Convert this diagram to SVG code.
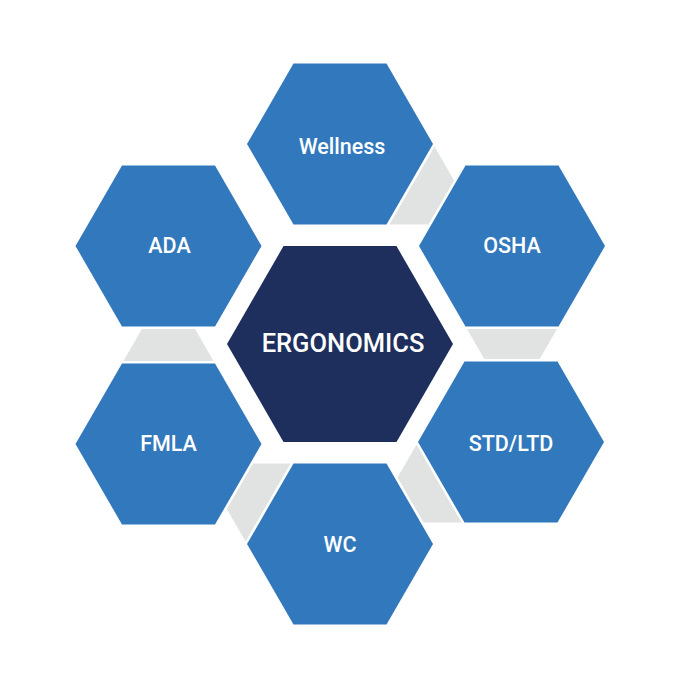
<svg xmlns="http://www.w3.org/2000/svg" xmlns:xlink="http://www.w3.org/1999/xlink" width="700" height="690" viewBox="0 0 700 690">
  <style>
    .hex { fill: #3178bc; }
    .core { fill: #1e2f5d; }
    .link { fill: #e1e3e2; }
    .lbl { fill: #ffffff; font-family: Roboto, "Liberation Sans", sans-serif; font-size: 21.5px; font-weight: 500; text-anchor: middle; }
    .main { fill: #ffffff; font-family: Roboto, "Liberation Sans", sans-serif; font-size: 25.5px; font-weight: 500; text-anchor: middle; }
  </style>
  <defs>
    <polygon id="hexS" points="93,0 46.5,80.5 -46.5,80.5 -93,0 -46.5,-80.5 46.5,-80.5"/>
    <polygon id="hexL" points="113,0 56.5,97.9 -56.5,97.9 -113,0 -56.5,-97.9 56.5,-97.9"/>
  </defs>
  <rect width="700" height="690" fill="#ffffff"/>

  <g id="connectors">
    <polygon class="link" points="434.5,146.5 454,180.4 428.5,224.5 389.4,224.5"/>
    <polygon class="link" points="467,329 557,329 539.7,359 484.3,359"/>
    <polygon class="link" points="416.6,444.5 397.5,477.5 423.5,522.5 461.6,522.5"/>
    <polygon class="link" points="245.6,541.5 226.8,509.1 253.1,463.5 290.6,463.5"/>
    <polygon class="link" points="123.5,361 213.5,361 195.1,329 141.9,329"/>
  </g>

  <g id="node-wellness">
    <use href="#hexS" xlink:href="#hexS" class="hex" x="340" y="144"/>
    <text class="lbl" x="342" y="154">Wellness</text>
  </g>
  <g id="node-osha">
    <use href="#hexS" xlink:href="#hexS" class="hex" x="512" y="246"/>
    <text class="lbl" x="512" y="253">OSHA</text>
  </g>
  <g id="node-stdltd">
    <use href="#hexS" xlink:href="#hexS" class="hex" x="511" y="442"/>
    <text class="lbl" x="511" y="451">STD/LTD</text>
  </g>
  <g id="node-wc">
    <use href="#hexS" xlink:href="#hexS" class="hex" x="340" y="544"/>
    <text class="lbl" x="340" y="552">WC</text>
  </g>
  <g id="node-fmla">
    <use href="#hexS" xlink:href="#hexS" class="hex" x="168.5" y="444"/>
    <text class="lbl" x="168.5" y="451">FMLA</text>
  </g>
  <g id="node-ada">
    <use href="#hexS" xlink:href="#hexS" class="hex" x="168.5" y="246"/>
    <text class="lbl" x="169.5" y="253">ADA</text>
  </g>
  <g id="node-ergonomics">
    <use href="#hexL" xlink:href="#hexL" class="core" x="340" y="344"/>
    <text class="main" x="343" y="351.5">ERGONOMICS</text>
  </g>
</svg>
